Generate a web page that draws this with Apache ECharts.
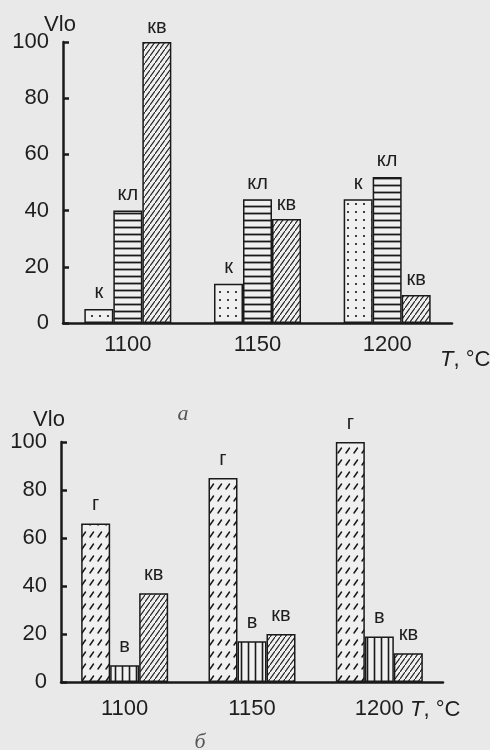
<!DOCTYPE html>
<html>
<head>
<meta charset="utf-8">
<script src="https://cdn.jsdelivr.net/npm/echarts@6/dist/echarts.min.js"></script>
<style>
html,body{margin:0;padding:0;background:#e9e9e9;}
#c{width:490px;height:750px;}
</style>
</head>
<body>
<div id="c"></div>
<script>
// ---- data ----
const categories = ['1100', '1150', '1200'];
// panel а
const seriesA_k  = [5, 14, 44];     // к
const seriesA_kl = [40, 44, 52];    // кл
const seriesA_kv = [100, 37, 10];   // кв
// panel б
const seriesB_g  = [66, 85, 100];   // г
const seriesB_v  = [7, 17, 19];     // в
const seriesB_kv = [37, 20, 12];    // кв
const namesA = ['к', 'кл', 'кв'];
const namesB = ['г', 'в', 'кв'];

// ---- patterns ----
const INK = '#1a1a1a';
const TXT = '#1e1e1e';
const FILLBG = '#f0f0f0';
function tile(w, h, draw) {
  const c = document.createElement('canvas');
  c.width = w; c.height = h;
  const ctx = c.getContext('2d');
  ctx.fillStyle = FILLBG;
  ctx.fillRect(0, 0, w, h);
  ctx.strokeStyle = INK;
  ctx.fillStyle = INK;
  draw(ctx, w, h);
  return { image: c, repeat: 'repeat' };
}
const patDots = tile(8, 8, (ctx) => {
  ctx.beginPath(); ctx.arc(4, 4, 1.1, 0, Math.PI * 2); ctx.fill();
});
const patHoriz = tile(4, 7, (ctx, w) => {
  ctx.lineWidth = 1.8;
  ctx.beginPath(); ctx.moveTo(0, 3.5); ctx.lineTo(w, 3.5); ctx.stroke();
});
const patVert = tile(7, 4, (ctx, w, h) => {
  ctx.lineWidth = 1.6;
  ctx.beginPath(); ctx.moveTo(3.5, 0); ctx.lineTo(3.5, h); ctx.stroke();
});
const patDiag = tile(5, 7, (ctx, w, h) => {
  ctx.lineWidth = 1.1;
  ctx.beginPath();
  ctx.moveTo(-1, h + 1.4); ctx.lineTo(w + 1, -1.4);
  ctx.stroke();
});
const patG = tile(8, 12, (ctx) => {
  ctx.lineWidth = 1.5;
  ctx.lineCap = 'round';
  ctx.beginPath(); ctx.moveTo(2, 9); ctx.lineTo(5.5, 4); ctx.stroke();
});

const FONT = '"Liberation Sans", Arial, sans-serif';
const labelStyle = {
  show: true, position: 'top', distance: 6,
  fontFamily: FONT, fontSize: 20, color: TXT
};
function bar(name, data, pattern, axis, dist) {
  return {
    type: 'bar', name: name, data: data,
    xAxisIndex: axis, yAxisIndex: axis,
    barWidth: 29, barGap: '0%',
    itemStyle: { color: pattern, borderColor: INK, borderWidth: 1.5 },
    label: Object.assign({}, labelStyle, { formatter: name, distance: dist }),
    emphasis: { disabled: true },
    animation: false
  };
}
const axisLineStyle = { color: INK, width: 2.5 };
function xAxis(gridIndex, margin) {
  return {
    type: 'category', gridIndex: gridIndex, data: categories,
    axisLine: { show: true, lineStyle: axisLineStyle },
    axisTick: { show: false },
    axisLabel: { margin: margin, fontFamily: FONT, fontSize: 22, color: TXT },
    splitLine: { show: false }
  };
}
function yAxis(gridIndex, pad) {
  return {
    type: 'value', gridIndex: gridIndex, min: 0, max: 100, interval: 20,
    axisLine: { show: true, lineStyle: axisLineStyle },
    axisTick: { show: true, inside: true, length: 6, lineStyle: { color: INK, width: 2.5 } },
    axisLabel: { margin: 14, fontFamily: FONT, fontSize: 22, color: TXT, padding: [pad, 0, 0, 0] },
    splitLine: { show: false }
  };
}

const chart = echarts.init(document.getElementById('c'), null, { renderer: 'canvas' });
chart.setOption({
  backgroundColor: '#e9e9e9',
  animation: false,
  grid: [
    { left: 63, right: 38, top: 42, height: 281 },
    { left: 61, right: 47, top: 442, height: 240 }
  ],
  xAxis: [xAxis(0, 11), xAxis(1, 16)],
  yAxis: [yAxis(0, 8), yAxis(1, 4)],
  series: [
    bar(namesA[0], seriesA_k, patDots, 0, 6),
    bar(namesA[1], seriesA_kl, patHoriz, 0, 6),
    bar(namesA[2], seriesA_kv, patDiag, 0, 5),
    bar(namesB[0], seriesB_g, patG, 1, 9),
    bar(namesB[1], seriesB_v, patVert, 1, 9),
    bar(namesB[2], seriesB_kv, patDiag, 1, 9)
  ],
  graphic: [
    { type: 'text', x: 60, y: 25, style: { text: 'Vlo', font: '22px ' + FONT, fill: TXT, align: 'center', verticalAlign: 'middle' } },
    { type: 'text', x: 49, y: 420, style: { text: 'Vlo', font: '22px ' + FONT, fill: TXT, align: 'center', verticalAlign: 'middle' } },
    { type: 'text', x: 440, y: 360, style: { text: '{i|T}, °C', font: '22px ' + FONT, fill: TXT, verticalAlign: 'middle',
        rich: { i: { fontStyle: 'italic', fontFamily: FONT, fontSize: 22, fill: TXT } } } },
    { type: 'text', x: 410, y: 710, style: { text: '{i|T}, °C', font: '22px ' + FONT, fill: TXT, verticalAlign: 'middle',
        rich: { i: { fontStyle: 'italic', fontFamily: FONT, fontSize: 22, fill: TXT } } } },
    { type: 'text', x: 183, y: 414, style: { text: 'а', font: 'italic 22px "Liberation Serif", serif', fill: '#555', align: 'center', verticalAlign: 'middle' } },
    { type: 'text', x: 200, y: 742, style: { text: 'б', font: 'italic 22px "Liberation Serif", serif', fill: '#555', align: 'center', verticalAlign: 'middle' } }
  ]
});
</script>
</body>
</html>
